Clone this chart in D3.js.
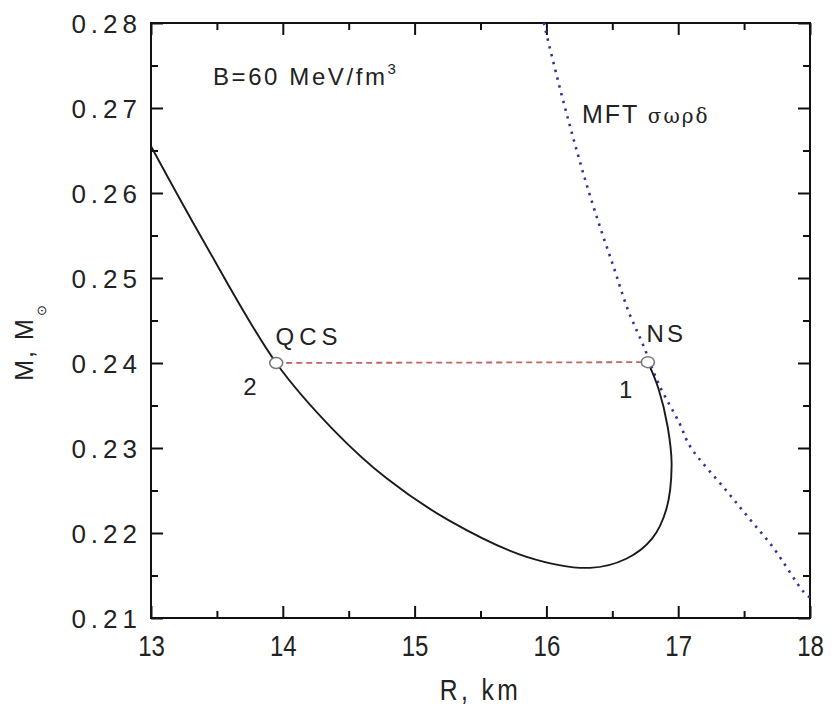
<!DOCTYPE html>
<html>
<head>
<meta charset="utf-8">
<script src="https://cdn.jsdelivr.net/npm/d3@7"></script>
<style>
  body { margin: 0; background: #fff; }
  text { font-family: "Liberation Sans", Arial, sans-serif; fill: #222; }
</style>
</head>
<body>
<div id="chart"></div>
<script>
// radius (km) / mass (M_sun) pairs
const qcsCurve = [
  [13.00, 0.2655], [13.40, 0.2543], [13.95, 0.2400], [14.38, 0.2322],
  [14.79, 0.2264], [15.27, 0.2214], [15.85, 0.2172], [16.33, 0.2159],
  [16.61, 0.2170], [16.80, 0.2193], [16.91, 0.2228], [16.95, 0.2280],
  [16.92, 0.2325], [16.85, 0.2370], [16.77, 0.2401]
];
const mftCurve = [
  [15.98, 0.2800], [16.08, 0.2737], [16.18, 0.2678], [16.28, 0.2623],
  [16.39, 0.2568], [16.51, 0.2513], [16.62, 0.2462], [16.74, 0.2419],
  [16.85, 0.2376], [17.01, 0.2329], [17.09, 0.2302], [17.37, 0.2249],
  [17.55, 0.2215], [17.72, 0.2183], [17.95, 0.2131], [18.00, 0.2124]
];
const transitionPoints = [[13.95, 0.2400], [16.77, 0.2401]];
const xMajor = [13, 14, 15, 16, 17, 18];
const xMinor = [13.5, 14.5, 15.5, 16.5, 17.5];
const yMajor = [0.21, 0.22, 0.23, 0.24, 0.25, 0.26, 0.27, 0.28];
const yMinor = [0.215, 0.225, 0.235, 0.245, 0.255, 0.265, 0.275];

const width = 838, height = 711;
const frame = {left: 151, right: 810, top: 23, bottom: 618};

const svg = d3.select("#chart").append("svg")
    .attr("width", width)
    .attr("height", height);

const x = d3.scaleLinear().domain([13, 18]).range([frame.left, frame.right]);
const y = d3.scaleLinear().domain([0.21, 0.28]).range([frame.bottom, frame.top]);

// ticks point inward on all four sides
function addAxis(axis, tx, ty, values, size, labels, pad) {
    const g = svg.append("g")
        .attr("transform", "translate(" + tx + "," + ty + ")")
        .call(axis.tickValues(values).tickSize(-size).tickPadding(pad || 0)
            .tickFormat(labels ? labels : ""));
    g.select(".domain").remove();
    g.selectAll(".tick line").attr("stroke", "#111").attr("stroke-width", 2);
    return g;
}
const bottomAx = addAxis(d3.axisBottom(x), 0, frame.bottom, xMajor, 12, d3.format("d"), 17);
addAxis(d3.axisBottom(x), 0, frame.bottom, xMinor, 7);
addAxis(d3.axisTop(x), 0, frame.top, xMajor, 12);
addAxis(d3.axisTop(x), 0, frame.top, xMinor, 7);
const leftAx = addAxis(d3.axisLeft(y), frame.left, 0, yMajor, 12, d3.format(".2f"), 9);
addAxis(d3.axisLeft(y), frame.left, 0, yMinor, 7);
addAxis(d3.axisRight(y), frame.right, 0, yMajor, 12);
addAxis(d3.axisRight(y), frame.right, 0, yMinor, 7);

bottomAx.selectAll(".tick text")
    .attr("font-size", 30)
    .attr("transform", "scale(0.8,1)")
    .attr("font-family", "Liberation Sans").attr("fill", "#222");
leftAx.selectAll(".tick text")
    .attr("font-size", 26).attr("letter-spacing", 5).attr("dy", "0.36em")
    .attr("font-family", "Liberation Sans").attr("fill", "#222");

svg.append("rect")
    .attr("x", frame.left).attr("y", frame.top)
    .attr("width", frame.right - frame.left)
    .attr("height", frame.bottom - frame.top)
    .attr("fill", "none").attr("stroke", "#111").attr("stroke-width", 2);

const line = d3.line().x(d => x(d[0])).y(d => y(d[1])).curve(d3.curveCatmullRom.alpha(0.5));

svg.append("path")
    .datum(mftCurve)
    .attr("d", line)
    .attr("fill", "none")
    .attr("stroke", "#32329c")
    .attr("stroke-width", 2.6)
    .attr("stroke-dasharray", "2.4,5.6");

svg.append("path")
    .datum(qcsCurve)
    .attr("d", line)
    .attr("fill", "none")
    .attr("stroke", "#1a1a1a")
    .attr("stroke-width", 1.9);

svg.append("path")
    .datum(transitionPoints)
    .attr("d", d3.line().x(d => x(d[0])).y(d => y(d[1])))
    .attr("fill", "none")
    .attr("stroke", "#c06464")
    .attr("stroke-width", 1.8)
    .attr("stroke-dasharray", "6,4");

svg.selectAll(".pt")
    .data(transitionPoints)
    .join("ellipse")
    .attr("class", "pt")
    .attr("cx", d => x(d[0])).attr("cy", d => y(d[1]))
    .attr("rx", 6.5).attr("ry", 5.5)
    .attr("fill", "#fff").attr("stroke", "#777").attr("stroke-width", 1.5);

// annotations
const label = (tx, ty, str, size, spacing) => svg.append("text")
    .attr("x", tx).attr("y", ty)
    .attr("font-size", size)
    .attr("letter-spacing", spacing)
    .text(str);

const bText = label(x(13.47), y(0.2727), "B=60 MeV/fm", 24, 2.6);
bText.append("tspan").attr("dy", -11).attr("font-size", 15).text("3");

const mft = label(x(16.27), y(0.2682), "MFT ", 25, 2);
mft.append("tspan").attr("font-family", "DejaVu Serif").attr("font-size", 20)
    .attr("letter-spacing", 2).text("σωρδ");

label(x(13.945), y(0.2421), "QCS", 24, 5);
label(x(16.76), y(0.2425), "NS", 24, 3);
label(x(13.70), y(0.2362), "2", 24, 0);
label(x(16.55), y(0.2359), "1", 24, 0);

svg.append("text")
    .attr("transform", "translate(" + (frame.left + frame.right) / 2 + ",700) scale(0.85,1)")
    .attr("text-anchor", "middle")
    .attr("font-size", 29)
    .attr("letter-spacing", 4)
    .text("R, km");

const yTitle = svg.append("text")
    .attr("transform", "translate(33,342) rotate(-90)")
    .attr("text-anchor", "middle")
    .attr("font-size", 25)
    .attr("letter-spacing", 2)
    .text("M,  M");
yTitle.append("tspan").attr("dy", 13).attr("dx", 1).attr("font-size", 13).text("⊙");
</script>
</body>
</html>
